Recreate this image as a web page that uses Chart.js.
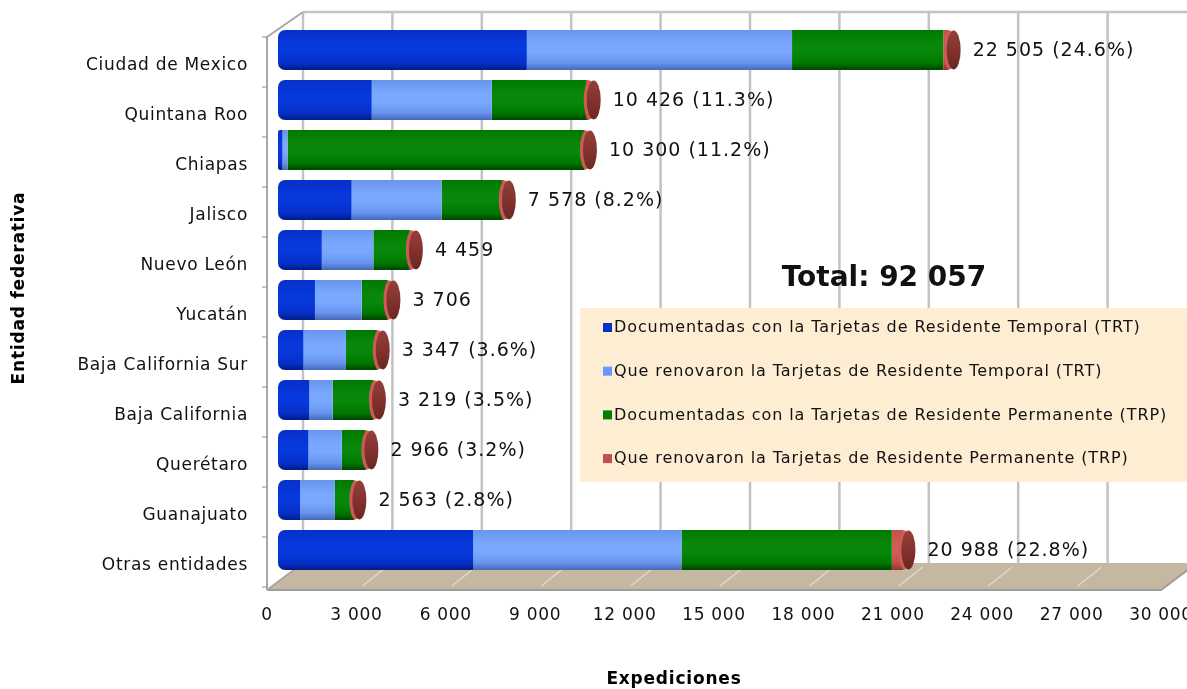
<!DOCTYPE html>
<html lang="es">
<head>
<meta charset="UTF-8">
<title>Expediciones por entidad federativa</title>
<style>
  html, body { margin: 0; padding: 0; background: #fff; }
</style>
</head>
<body>
<canvas id="chart" width="1187" height="689"></canvas>
<script src="https://cdn.jsdelivr.net/npm/chart.js@4.4.1/dist/chart.umd.min.js"></script>
<script>
// datos
const entidades = ['Ciudad de Mexico', 'Quintana Roo', 'Chiapas', 'Jalisco', 'Nuevo León', 'Yucatán',
  'Baja California Sur', 'Baja California', 'Querétaro', 'Guanajuato', 'Otras entidades'];
const docTRT = [8350, 3145, 150, 2470, 1470, 1240, 850, 1050, 1020, 740, 6550];
const renTRT = [8900, 4030, 170, 3020, 1730, 1570, 1430, 785, 1120, 1170, 6990];
const docTRP = [5075, 3160, 9960, 2028, 1220, 866, 1037, 1364, 806, 638, 7058];
const renTRP = [180, 91, 20, 60, 39, 30, 30, 20, 20, 15, 390];
const etiquetas = ['22 505 (24.6%)', '10 426 (11.3%)', '10 300 (11.2%)', '7 578 (8.2%)', '4 459', '3 706',
  '3 347 (3.6%)', '3 219 (3.5%)', '2 966 (3.2%)', '2 563 (2.8%)', '20 988 (22.8%)'];
const series = [
  'Documentadas con la Tarjetas de Residente Temporal (TRT)',
  'Que renovaron la Tarjetas de Residente Temporal (TRT)',
  'Documentadas con la Tarjetas de Residente Permanente (TRP)',
  'Que renovaron la Tarjetas de Residente Permanente (TRP)'
];
const totalTexto = 'Total: 92 057';
const xMax = 30000;
const xPaso = 3000;

const FUENTE = '"DejaVu Sans", sans-serif';
// [arriba, brillo, abajo] para el efecto de cilindro
const colores = [
  ['#0730c8', '#0638dc', '#001c8c'],
  ['#6894ee', '#7aa8ff', '#4668b8'],
  ['#007800', '#08880a', '#004400'],
  ['#c2504c', '#d25c57', '#8e3531']
];
const legendaColores = ['#0033cc', '#6699ff', '#008000', '#c0504d'];

const miles = v => String(v).replace(/\B(?=(\d{3})+(?!\d))/g, ' ');

const ALTO_BARRA = 40;
const FONDO_DX = 25, FONDO_DY = 13, FRENTE_DX = 11, FRENTE_DY = 15;

function cilindro(c) {
  return (ctx) => {
    const chart = ctx.chart;
    if (!chart.chartArea || ctx.type !== 'data') return c[1];
    const y = chart.scales.y.getPixelForValue(ctx.dataIndex);
    const g = chart.ctx.createLinearGradient(0, y - ALTO_BARRA / 2, 0, y + ALTO_BARRA / 2);
    g.addColorStop(0, c[0]);
    g.addColorStop(0.35, c[1]);
    g.addColorStop(0.55, c[1]);
    g.addColorStop(0.82, c[0]);
    g.addColorStop(1, c[2]);
    return g;
  };
}

// paredes, piso y rejilla en perspectiva
const escena = {
  id: 'escena',
  beforeDraw(chart) {
    // la fuente original es mas ancha
    chart.ctx.letterSpacing = '0.7px';
  },
  beforeDatasetsDraw(chart) {
    const { ctx, chartArea: a, scales: { x: xs } } = chart;
    const x0 = xs.getPixelForValue(0), x1 = xs.getPixelForValue(xMax);
    const fTop = a.top + 12, fBot = a.bottom + FRENTE_DY;
    const bTop = a.top - FONDO_DY, bBot = a.bottom - 12;
    ctx.save();
    // piso
    ctx.fillStyle = '#c5b7a0';
    ctx.beginPath();
    ctx.moveTo(x0 - FRENTE_DX, fBot);
    ctx.lineTo(x1 - FRENTE_DX, fBot);
    ctx.lineTo(x1 + FONDO_DX, bBot);
    ctx.lineTo(x0 + FONDO_DX, bBot);
    ctx.closePath();
    ctx.fill();
    ctx.strokeStyle = '#e2d9ca';
    ctx.lineWidth = 1.5;
    for (let v = xPaso; v < xMax; v += xPaso) {
      const px = xs.getPixelForValue(v);
      ctx.beginPath();
      ctx.moveTo(px - FRENTE_DX + 6, fBot - 4);
      ctx.lineTo(px + FONDO_DX - 6, bBot + 4);
      ctx.stroke();
    }
    ctx.strokeStyle = '#9d9d9d';
    ctx.lineWidth = 2;
    ctx.beginPath();
    ctx.moveTo(x0 - FRENTE_DX, fBot);
    ctx.lineTo(x1 - FRENTE_DX, fBot);
    ctx.lineTo(x1 + FONDO_DX, bBot);
    ctx.stroke();
    // rejilla del fondo
    ctx.strokeStyle = '#c3c3c3';
    ctx.lineWidth = 2.5;
    for (let v = 0; v <= xMax; v += xPaso) {
      const px = xs.getPixelForValue(v) + FONDO_DX;
      ctx.beginPath();
      ctx.moveTo(px, bTop);
      ctx.lineTo(px, bBot);
      ctx.stroke();
    }
    ctx.beginPath();
    ctx.moveTo(x0 + FONDO_DX, bTop);
    ctx.lineTo(chart.width, bTop);
    ctx.stroke();
    // pared izquierda
    ctx.strokeStyle = '#a8a8a8';
    ctx.lineWidth = 2;
    ctx.beginPath();
    ctx.moveTo(x0 - FRENTE_DX, fBot);
    ctx.lineTo(x0 - FRENTE_DX, fTop);
    ctx.lineTo(x0 + FONDO_DX, bTop);
    ctx.stroke();
    ctx.beginPath();
    ctx.moveTo(x0 - FRENTE_DX, fBot);
    ctx.lineTo(x0 + FONDO_DX, bBot);
    ctx.stroke();
    // marcas del eje vertical
    ctx.strokeStyle = '#8c8c8c';
    ctx.lineWidth = 1;
    const paso = (a.bottom - a.top) / entidades.length;
    for (let i = 0; i <= entidades.length; i++) {
      const py = fTop + i * paso;
      ctx.beginPath();
      ctx.moveTo(x0 - FRENTE_DX - 5, py);
      ctx.lineTo(x0 - FRENTE_DX, py);
      ctx.stroke();
    }
    ctx.restore();
  },
  afterDatasetsDraw(chart) {
    const { ctx, chartArea: a } = chart;
    const meta = chart.getDatasetMeta(3);
    ctx.save();
    // tapas de los cilindros
    meta.data.forEach((bar) => {
      const ex = bar.x, cy = bar.y, r = ALTO_BARRA / 2;
      ctx.fillStyle = '#cf5a55';
      ctx.beginPath();
      ctx.ellipse(ex + 1, cy, 6, r - 0.5, 0, 0, Math.PI * 2);
      ctx.fill();
      const g = ctx.createLinearGradient(0, cy - r, 0, cy + r);
      g.addColorStop(0, '#94403b');
      g.addColorStop(0.5, '#83322e');
      g.addColorStop(1, '#6a2622');
      ctx.fillStyle = g;
      ctx.beginPath();
      ctx.ellipse(ex + 5, cy, 7, r - 0.5, 0, 0, Math.PI * 2);
      ctx.fill();
    });
    // etiquetas de total
    ctx.fillStyle = '#111';
    ctx.letterSpacing = '1px';
    ctx.font = '19px ' + FUENTE;
    ctx.textBaseline = 'middle';
    ctx.textAlign = 'left';
    meta.data.forEach((bar, i) => {
      ctx.fillText(etiquetas[i], bar.x + 24, bar.y + 1);
    });
    // total
    ctx.letterSpacing = '0px';
    ctx.font = 'bold 28px ' + FUENTE;
    ctx.textAlign = 'center';
    ctx.fillText(totalTexto, a.left + 606, a.top + 254);
    // leyenda
    const lx = a.left + 302, ly = a.top + 283;
    ctx.fillStyle = '#fdedd3';
    ctx.fillRect(lx, ly, chart.width - lx, 174);
    ctx.letterSpacing = '0.9px';
    ctx.font = '16px ' + FUENTE;
    ctx.textAlign = 'left';
    chart.data.datasets.forEach((ds, k) => {
      const ty = ly + 20 + k * 43.7;
      ctx.fillStyle = legendaColores[k];
      ctx.fillRect(lx + 23, ty - 5, 9, 9);
      ctx.fillStyle = '#111';
      ctx.fillText(ds.label, lx + 34, ty);
    });
    // titulos de ejes
    ctx.letterSpacing = '0.8px';
    ctx.font = 'bold 17px ' + FUENTE;
    ctx.fillStyle = '#000';
    ctx.textAlign = 'center';
    ctx.fillText('Expediciones', a.left + 396, chart.height - 9);
    ctx.translate(20, a.top + 263);
    ctx.rotate(-Math.PI / 2);
    ctx.fillText('Entidad federativa', 0, 0);
    ctx.restore();
  }
};

const conjuntos = [docTRT, renTRT, docTRP, renTRP].map((d, k) => ({
  label: series[k],
  data: d,
  backgroundColor: cilindro(colores[k]),
  borderWidth: 0,
  borderSkipped: false,
  borderRadius: k === 0 ? { topLeft: 7, bottomLeft: 7, topRight: 0, bottomRight: 0 } : 0,
  barPercentage: 0.8,
  categoryPercentage: 1
}));

new Chart(document.getElementById('chart'), {
  type: 'bar',
  data: { labels: entidades, datasets: conjuntos },
  options: {
    indexAxis: 'y',
    responsive: false,
    animation: false,
    devicePixelRatio: 1,
    layout: { padding: { top: 25, right: 15, left: 0, bottom: 0 } },
    plugins: { legend: { display: false }, tooltip: { enabled: false } },
    scales: {
      x: {
        stacked: true,
        min: 0,
        max: xMax,
        ticks: {
          stepSize: xPaso,
          labelOffset: -FRENTE_DX,
          padding: 30,
          color: '#111',
          font: { family: FUENTE, size: 17 },
          maxRotation: 0,
          autoSkip: false,
          callback: v => miles(v)
        },
        grid: { display: false, drawTicks: false },
        border: { display: false },
        afterFit: s => { s.height = 114; s.paddingLeft = 0; s.paddingRight = 0; }
      },
      y: {
        stacked: true,
        ticks: {
          labelOffset: 16,
          padding: 30,
          color: '#111',
          font: { family: FUENTE, size: 17 }
        },
        grid: { display: false, drawTicks: false },
        border: { display: false },
        afterFit: s => { s.width = 278; s.paddingTop = 0; s.paddingBottom = 0; }
      }
    }
  },
  plugins: [escena]
});
</script>
</body>
</html>
